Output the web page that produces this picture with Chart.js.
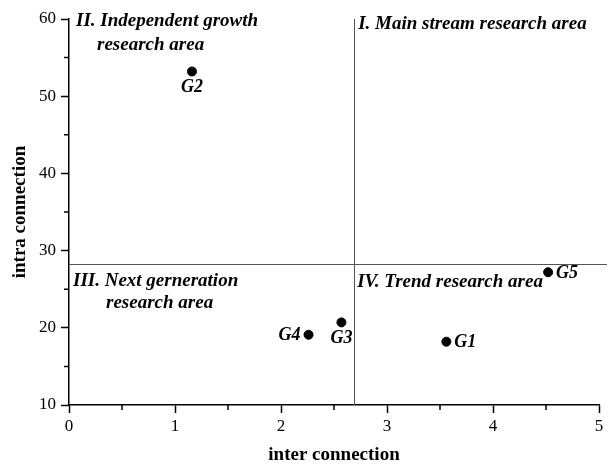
<!DOCTYPE html>
<html>
<head>
<meta charset="utf-8">
<script src="https://cdn.jsdelivr.net/npm/chart.js@4"></script>
<style>
  html, body { margin: 0; padding: 0; background: #fff; }
  #wrap { width: 616px; height: 465px; }
</style>
</head>
<body>
<div id="wrap"><canvas id="quadChart" width="616" height="465"></canvas></div>
<script>
// groups and their position
var groups = ['G1', 'G2', 'G3', 'G4', 'G5'];
var interValues = [3.56, 1.16, 2.57, 2.26, 4.52];
var intraValues = [18.2, 53.2, 20.7, 19.1, 27.2];
var labelSide = ['right', 'below', 'below', 'left', 'right'];

// quadrant split
var splitInter = 2.69;
var splitIntra = 28.3;

var xTicks = [0, 1, 2, 3, 4, 5];
var yTicks = [10, 20, 30, 40, 50, 60];

var serif = '"Liberation Serif", "Times New Roman", serif';

var quadrantPlugin = {
    id: 'quadrants',
    afterDatasetsDraw: function (chart) {
        var c = chart.ctx;
        var xs = chart.scales.x, ys = chart.scales.y;
        var area = chart.chartArea;
        var qx = xs.getPixelForValue(splitInter);
        var qy = ys.getPixelForValue(splitIntra);

        c.save();
        // split lines
        c.strokeStyle = '#555';
        c.lineWidth = 1;
        c.beginPath();
        c.moveTo(Math.round(qx) + 0.5, area.top);
        c.lineTo(Math.round(qx) + 0.5, area.bottom);
        c.moveTo(area.left, Math.round(qy) + 0.5);
        c.lineTo(area.right + 8, Math.round(qy) + 0.5);
        c.stroke();

        // minor ticks
        c.strokeStyle = '#000';
        c.lineWidth = 1.5;
        c.beginPath();
        for (var v = 0.5; v < 5; v += 1) {
            var px = xs.getPixelForValue(v);
            c.moveTo(px, area.bottom);
            c.lineTo(px, area.bottom + 5);
        }
        for (var w = 15; w < 60; w += 10) {
            var py = ys.getPixelForValue(w);
            c.moveTo(area.left, py);
            c.lineTo(area.left - 5, py);
        }
        c.stroke();

        // quadrant names
        c.fillStyle = '#000';
        c.font = 'italic bold 19px ' + serif;
        c.textBaseline = 'middle';
        c.textAlign = 'left';
        c.fillText('II. Independent growth', area.left + 7, area.top + 2);
        c.fillText('research area', area.left + 28, area.top + 26);
        c.fillText('I. Main stream research area', qx + 4, area.top + 5);
        c.fillText('III. Next gerneration', area.left + 4, qy + 17);
        c.fillText('research area', area.left + 37, qy + 39);
        c.fillText('IV. Trend research area', qx + 3, qy + 18);

        // point labels
        c.font = 'italic bold 18px ' + serif;
        var meta = chart.getDatasetMeta(0);
        meta.data.forEach(function (pt, i) {
            var side = labelSide[i];
            if (side === 'right') {
                c.textAlign = 'left';
                c.fillText(groups[i], pt.x + 8, pt.y + 1);
            } else if (side === 'left') {
                c.textAlign = 'right';
                c.fillText(groups[i], pt.x - 8, pt.y + 1);
            } else {
                c.textAlign = 'center';
                c.fillText(groups[i], pt.x, pt.y + 16);
            }
        });
        c.restore();
    }
};

var ctx = document.getElementById('quadChart').getContext('2d');
var quadChart = new Chart(ctx, {
    type: 'scatter',
    data: {
        datasets: [{
            data: groups.map(function (g, i) {
                return { x: interValues[i], y: intraValues[i] };
            }),
            backgroundColor: '#000',
            borderColor: '#000',
            pointRadius: 4.5,
            pointHoverRadius: 4.5
        }]
    },
    options: {
        responsive: false,
        animation: false,
        layout: { padding: { top: 19, right: 17, left: 0, bottom: 0 } },
        plugins: { legend: { display: false }, tooltip: { enabled: false } },
        scales: {
            x: {
                type: 'linear',
                min: 0,
                max: 5,
                afterBuildTicks: function (axis) {
                    axis.ticks = xTicks.map(function (v) { return { value: v }; });
                },
                afterFit: function (axis) { axis.height = 60; },
                grid: { drawOnChartArea: false, tickLength: 8, tickColor: '#000', tickWidth: 1.5 },
                border: { color: '#000', width: 1.5 },
                ticks: {
                    color: '#000',
                    font: { family: serif, size: 17 },
                    padding: 3,
                    maxRotation: 0
                },
                title: {
                    display: true,
                    text: 'inter connection',
                    color: '#000',
                    font: { family: serif, size: 19, weight: 'bold' },
                    padding: { top: 14, bottom: -1 }
                }
            },
            y: {
                type: 'linear',
                min: 10,
                max: 60,
                afterBuildTicks: function (axis) {
                    axis.ticks = yTicks.map(function (v) { return { value: v }; });
                },
                afterFit: function (axis) { axis.width = 69; },
                grid: { drawOnChartArea: false, tickLength: 8, tickColor: '#000', tickWidth: 1.5 },
                border: { color: '#000', width: 1.5 },
                ticks: {
                    color: '#000',
                    font: { family: serif, size: 17 },
                    padding: 5
                },
                title: {
                    display: true,
                    text: 'intra connection',
                    color: '#000',
                    font: { family: serif, size: 19, weight: 'bold' },
                    padding: { top: 9, bottom: 8 }
                }
            }
        }
    },
    plugins: [quadrantPlugin]
});
</script>
</body>
</html>
